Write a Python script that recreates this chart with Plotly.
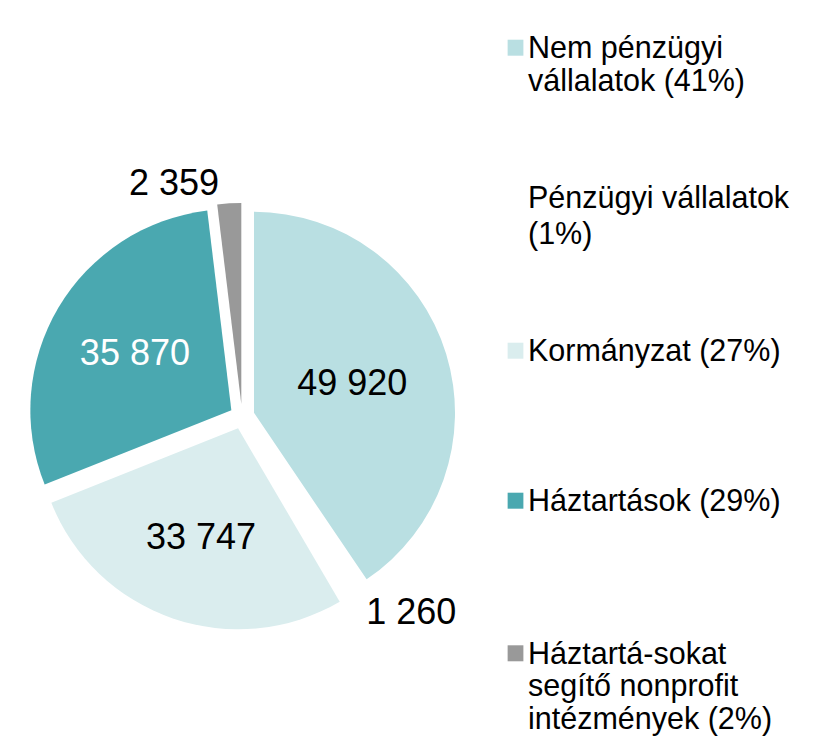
import plotly.graph_objects as go

# Data
labels = ["Nem pénzügyi vállalatok", "Pénzügyi vállalatok", "Kormányzat",
          "Háztartások", "Háztartá-sokat segítő nonprofit intézmények"]
values = [49920, 1260, 33747, 35870, 2359]
legend_lines = [
    ["Nem pénzügyi", "vállalatok (41%)"],
    ["Pénzügyi vállalatok", "(1%)"],
    ["Kormányzat (27%)"],
    ["Háztartások (29%)"],
    ["Háztartá-sokat", "segítő nonprofit", "intézmények (2%)"],
]
colors = ["#B9DFE2", "#FFFFFF", "#DAEDEE", "#4AA8B0", "#999999"]
text_colors = ["black", "black", "black", "white", "black"]

W, H = 819, 741
FONT = "Liberation Sans, Arial, sans-serif"

# pie geometry (pixels)
cx, cy, r, pull = 233.5, 416.5, 204, 0.062
half = r * (1 + pull)

fig = go.Figure()
fig.add_trace(go.Pie(
    labels=labels,
    values=values,
    sort=False,
    direction="clockwise",
    rotation=0,
    pull=[pull] * len(values),
    marker=dict(colors=colors, line=dict(width=0)),
    texttemplate="%{value:,}",
    textposition=["inside", "outside", "inside", "inside", "outside"],
    insidetextorientation="horizontal",
    insidetextfont=dict(family=FONT, size=36, color=text_colors),
    outsidetextfont=dict(family=FONT, size=36, color="black"),
    showlegend=False,
    hoverinfo="label+value+percent",
    domain=dict(x=[(cx - half) / W, (cx + half) / W],
                y=[(H - (cy + half)) / H, (H - (cy - half)) / H]),
))

# Legend drawn as squares + text lines
LEG_FS = 30.5
first_baselines = [57.7, 208.5, 360.7, 510.7, 663.3]
line_gaps = [33, 36, 33, 33, 33]
shapes = []
annotations = []
for i, lines in enumerate(legend_lines):
    b0 = first_baselines[i]
    sq_c = b0 - 10
    shapes.append(dict(type="rect", xref="paper", yref="paper",
                       x0=503 / W, x1=519 / W,
                       y0=(H - (sq_c + 8)) / H, y1=(H - (sq_c - 8)) / H,
                       fillcolor=colors[i], line=dict(width=0)))
    for j, t in enumerate(lines):
        b = b0 + j * line_gaps[i]
        yc = b - 0.3465 * LEG_FS
        annotations.append(dict(text=t, xref="paper", yref="paper",
                                x=522 / W, y=(H - yc) / H,
                                xanchor="left", yanchor="middle",
                                showarrow=False,
                                font=dict(family=FONT, size=LEG_FS, color="black")))

fig.update_layout(
    width=W, height=H,
    margin=dict(l=0, r=0, t=0, b=0),
    paper_bgcolor="white",
    plot_bgcolor="white",
    separators=", ",
    shapes=shapes,
    annotations=annotations,
    font=dict(family=FONT),
)

fig.write_html("out.html", config={"displayModeBar": False},
               post_script="document.body.style.margin='0';")
